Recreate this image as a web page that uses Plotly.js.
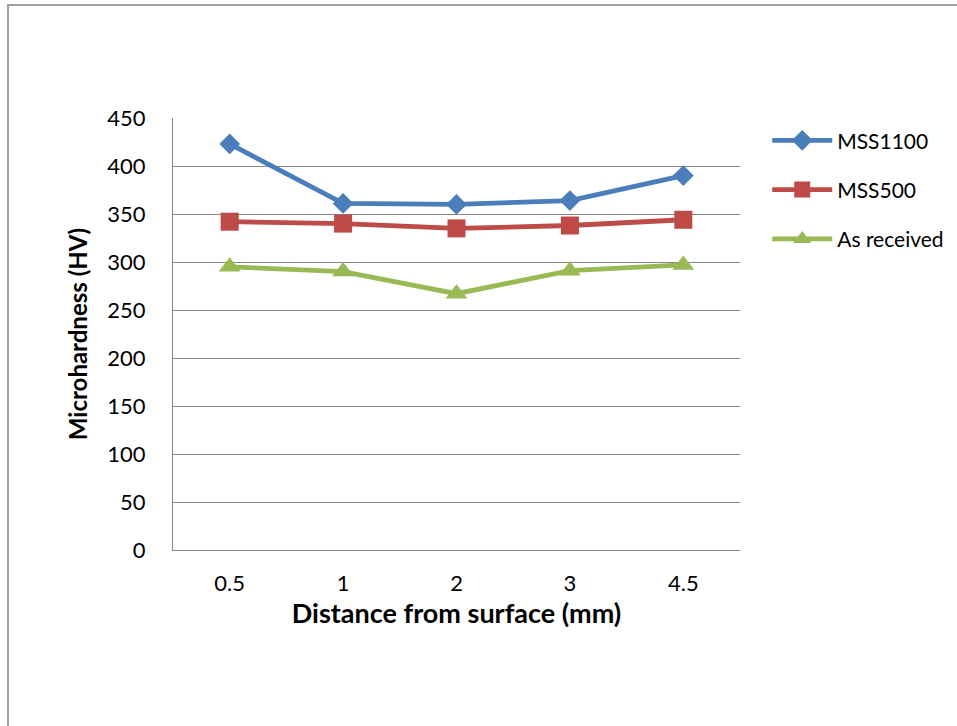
<!DOCTYPE html>
<html>
<head>
<meta charset="utf-8">
<script src="https://cdn.plot.ly/plotly-3.0.1.min.js"></script>
<style>html,body{margin:0;padding:0;background:#fff;}#chart{width:957px;height:726px;}</style>
</head>
<body>
<div id="chart"></div>
<script>
var categories = ["0.5", "1", "2", "3", "4.5"];
var mss1100 = [423, 361, 360, 364, 390];
var mss500 = [342, 340, 335, 338, 344];
var asReceived = [295, 290, 267, 291, 297];
var seriesNames = ["MSS1100", "MSS500", "As received"];
var yTicks = [0, 50, 100, 150, 200, 250, 300, 350, 400, 450];

var font = "Lato, 'Open Sans', sans-serif";

function trace(y, name, color, symbol, size, grp) {
  return {
    x: categories, y: y, name: name, type: "scatter", mode: "lines+markers",
    line: {color: color, width: 4.8},
    marker: {color: color, symbol: symbol, size: size},
    legendgroup: grp
  };
}

var data = [
  trace(mss1100, seriesNames[0], "#4a7ebb", "diamond", 16, "a"),
  trace(mss500, seriesNames[1], "#be4b48", "square", 18, "b"),
  trace(asReceived, seriesNames[2], "#98b954", "triangle-up", 19, "c")
];

var layout = {
  width: 957, height: 726,
  margin: {l: 173, r: 217, t: 118, b: 176, autoexpand: false},
  paper_bgcolor: "#fff", plot_bgcolor: "#fff",
  font: {family: font, color: "#000", size: 22},
  showlegend: true,
  legend: {
    x: 1.048, y: 0.995, xanchor: "left", yanchor: "top",
    font: {family: font, size: 21, color: "#000"},
    traceorder: "grouped", tracegroupgap: 19, itemwidth: 60,
    bgcolor: "rgba(0,0,0,0)"
  },
  xaxis: {
    type: "category", range: [-0.5, 4.5],
    showgrid: false, showline: true, linecolor: "#868686", linewidth: 1,
    ticks: "outside", ticklen: 14, tickcolor: "rgba(0,0,0,0)",
    tickfont: {family: font, size: 22},
    title: {text: "<b>Distance from surface (mm)</b>", font: {family: font, size: 27}, standoff: 0}
  },
  yaxis: {
    range: [0, 450], tickvals: yTicks, ticktext: yTicks.map(String),
    showgrid: true, gridcolor: "#868686", gridwidth: 1,
    showline: true, linecolor: "#868686", linewidth: 1, zeroline: false,
    ticks: "outside", ticklen: 22, tickcolor: "rgba(0,0,0,0)",
    tickfont: {family: font, size: 22},
    title: {text: "<b>Microhardness (HV)</b>", font: {family: font, size: 24}, standoff: 12}
  },
  shapes: [{
    type: "rect", xref: "paper", yref: "paper",
    x0: -0.291, x1: 2, y0: -1, y1: 1.2616,
    line: {color: "#a0a0a0", width: 2}, fillcolor: "rgba(0,0,0,0)", layer: "below"
  }]
};

Plotly.newPlot("chart", data, layout, {displayModeBar: false, staticPlot: true});
</script>
</body>
</html>
